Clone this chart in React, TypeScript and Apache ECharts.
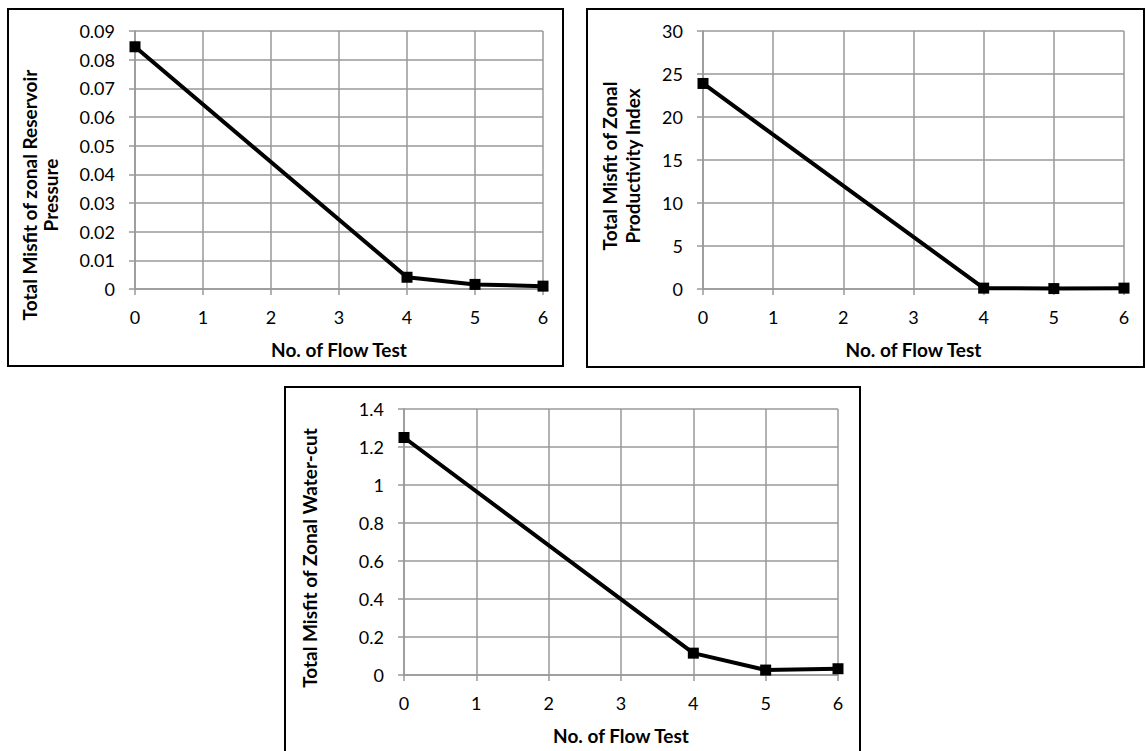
import React, { useEffect, useRef } from "react";
import * as echarts from "echarts";

// ---- data ----
const flowTests = [0, 4, 5, 6];
const pressureMisfit = [0.0845, 0.0041, 0.0016, 0.001];
const productivityMisfit = [23.9, 0.1, 0.05, 0.1];
const waterCutMisfit = [1.25, 0.115, 0.026, 0.033];

const xTitle = "No. of Flow Test";
const yTitles1 = ["Total Misfit of zonal Reservoir", "Pressure"];
const yTitles2 = ["Total Misfit of Zonal", "Productivity Index"];
const yTitles3 = ["Total Misfit of Zonal Water-cut"];

const FONT = "Lato, 'Open Sans', sans-serif";
const GRID_COLOR = "#999999";
const TICK_FONT = 18;
const TITLE_FONT = 19;

function pairs(xs: number[], ys: number[]) {
  return xs.map((x, i) => [x, ys[i]]);
}

export default function App() {
  const ref = useRef<HTMLDivElement>(null);

  useEffect(() => {
    if (!ref.current) return;
    const chart = echarts.init(ref.current, null, { renderer: "svg" });

    const lineStyle = { color: GRID_COLOR, width: 1.5 };

    const xAxis = (gridIndex: number) => ({
      gridIndex,
      type: "value",
      min: 0,
      max: 6,
      interval: 1,
      axisLine: { show: true, onZero: false, lineStyle },
      axisTick: { show: true, length: 6, lineStyle },
      splitLine: { show: true, lineStyle },
      axisLabel: { fontFamily: FONT, fontSize: TICK_FONT, color: "#000", margin: 19 },
      name: xTitle,
      nameLocation: "middle",
      nameGap: 51,
      nameTextStyle: { fontFamily: FONT, fontSize: TITLE_FONT, fontWeight: "bold", color: "#000" },
    });

    const yAxis = (gridIndex: number, max: number, interval: number) => ({
      gridIndex,
      type: "value",
      min: 0,
      max,
      interval,
      axisLine: { show: true, lineStyle },
      axisTick: { show: true, length: 6, lineStyle },
      splitLine: { show: true, lineStyle },
      axisLabel: { fontFamily: FONT, fontSize: TICK_FONT, color: "#000", margin: 20 },
    });

    const series = (idx: number, ys: number[]) => ({
      type: "line",
      xAxisIndex: idx,
      yAxisIndex: idx,
      data: pairs(flowTests, ys),
      symbol: "rect",
      symbolSize: 11,
      lineStyle: { color: "#000", width: 4 },
      itemStyle: { color: "#000" },
    });

    const frame = (x: number, y: number, w: number, h: number) => ({
      type: "rect",
      shape: { x, y, width: w, height: h },
      style: { fill: "none", stroke: "#000", lineWidth: 2 },
      silent: true,
    });

    const vText = (text: string, x: number, y: number) => ({
      type: "text",
      x,
      y,
      rotation: Math.PI / 2,
      style: {
        text,
        fontFamily: FONT,
        fontSize: TITLE_FONT,
        fontWeight: "bold",
        fill: "#000",
        align: "center",
        verticalAlign: "middle",
      },
      silent: true,
    });

    chart.setOption({
      animation: false,
      backgroundColor: "#fff",
      grid: [
        { left: 135, top: 31, width: 408, height: 258, outerBoundsMode: "none" },
        { left: 703, top: 31, width: 421, height: 258, outerBoundsMode: "none" },
        { left: 404, top: 409, width: 434, height: 266, outerBoundsMode: "none" },
      ],
      xAxis: [xAxis(0), xAxis(1), xAxis(2)],
      yAxis: [yAxis(0, 0.09, 0.01), yAxis(1, 30, 5), yAxis(2, 1.4, 0.2)],
      series: [
        series(0, pressureMisfit),
        series(1, productivityMisfit),
        series(2, waterCutMisfit),
      ],
      graphic: [
        frame(8, 9, 555, 357),
        frame(587, 9, 557, 358),
        frame(285, 387, 575, 372),
        vText(yTitles1[0], 29, 195),
        vText(yTitles1[1], 50, 195),
        vText(yTitles2[0], 609, 166),
        vText(yTitles2[1], 632, 166),
        vText(yTitles3[0], 309, 558),
      ],
    });

    return () => chart.dispose();
  }, []);

  return (
    <div
      ref={ref}
      style={{ position: "fixed", left: 0, top: 0, width: 1146, height: 751, background: "#fff" }}
    />
  );
}
